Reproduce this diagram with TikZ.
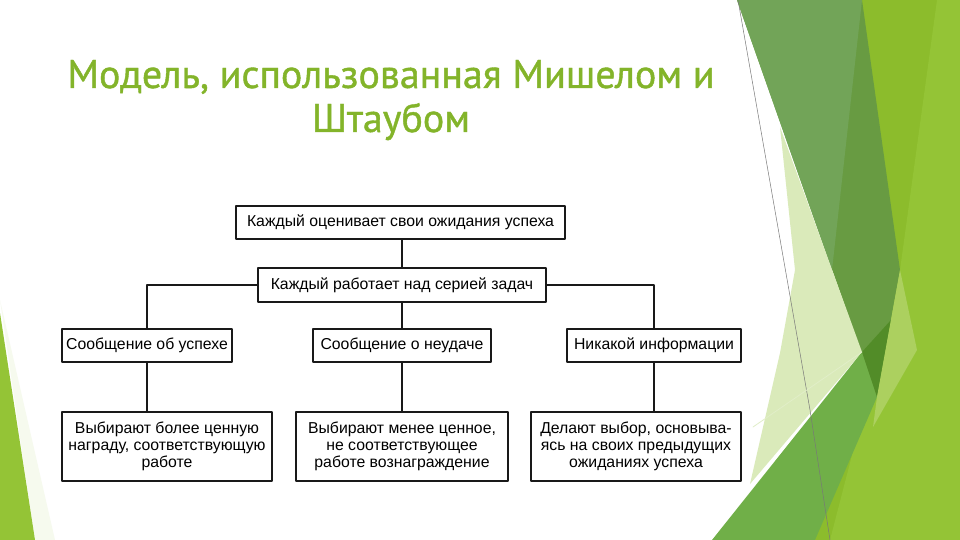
\documentclass[tikz,border=0pt]{standalone}
\usepackage{fontspec}
\newfontfamily\titlefont[FakeBold=1]{PT Sans}
\newfontfamily\boxfont{Liberation Sans}
\begin{document}
\begin{tikzpicture}[x=1pt,y=-1pt,line cap=round,line join=round,
  stepbox/.style={draw=boxline,line width=1.5pt,inner sep=0pt,align=center,
    font=\boxfont\fontsize{15.8}{17}\selectfont},
  smallbox/.style={stepbox,minimum height=33pt},
  tallbox/.style={stepbox,minimum height=69pt},
  link/.style={draw=boxline,line width=1.5pt},
  headline/.style={text=titlegreen,anchor=base,inner sep=0pt,
    font=\titlefont\fontsize{40}{44}\selectfont}]
\definecolor{boxline}{RGB}{25,25,25}
\definecolor{titlegreen}{RGB}{131,180,42}
\definecolor{limebase}{RGB}{140,188,44}
\definecolor{limelight}{RGB}{148,196,54}
\definecolor{darkband}{RGB}{104,155,66}
\definecolor{mutedband}{RGB}{114,164,88}
\definecolor{palefacet}{RGB}{218,234,186}
\definecolor{midgreen}{RGB}{112,175,72}
\definecolor{deepgreen}{RGB}{82,140,40}
\definecolor{limepale}{RGB}{172,208,95}
\definecolor{faintline}{RGB}{120,120,120}

\useasboundingbox (0,0) rectangle (960,540);
\fill[white] (0,0) rectangle (960,540);

% facets
\fill[limebase] (862,0) -- (960,0) -- (960,540) -- (800,540) -- (877,397) -- cycle;
\fill[limelight] (937,0) -- (960,0) -- (960,540) -- (830,540) -- (900,270) -- cycle;
\fill[darkband] (737,0) -- (862,0) -- (900,270) -- (877,397) -- cycle;
\fill[mutedband] (737,0) -- (862,0) -- (832,270) -- cycle;
\fill[palefacet] (780,127) -- (862,352) -- (750,484) -- (780,353) -- (795,270) -- cycle;
\fill[midgreen] (712,540) -- (862,352) -- (877,397) -- (815,540) -- cycle;
\fill[deepgreen] (862,352) -- (891,320) -- (877,397) -- cycle;
\fill[limepale] (900,270) -- (917,350) -- (873,427) -- (877,397) -- cycle;
\draw[faintline,line width=0.5pt] (738,0) -- (810,410) -- (830,540);
\draw[palefacet!80!white,line width=0.8pt] (753,427) -- (862,352);
\fill[palefacet!25!white] (0,300) -- (55,540) -- (35,540) -- cycle;
\fill[limelight] (0,313) -- (35,540) -- (0,540) -- cycle;

% title
\node[headline] (title1) at (391,88) {Модель, использованная Мишелом и};
\node[headline] (title2) at (391,132) {Штаубом};

% boxes
\node[smallbox,minimum width=329pt] (ozhid) at (400.5,222.5)
  {Каждый оценивает свои ожидания успеха};
\node[smallbox,minimum width=288pt,minimum height=34pt] (seria) at (402,285)
  {Каждый работает над серией задач};
\node[smallbox,minimum width=170pt] (uspeh) at (147,345.5) {Сообщение об успехе};
\node[smallbox,minimum width=178pt] (neudacha) at (402,345.5) {Сообщение о неудаче};
\node[smallbox,minimum width=174pt] (noinfo) at (654,345.5) {Никакой информации};
\node[tallbox,minimum width=210pt] (bolee) at (167,446.5)
  {Выбирают более ценную\\награду, соответствующую\\работе};
\node[tallbox,minimum width=212pt] (menee) at (402,446.5)
  {Выбирают менее ценное,\\не соответствующее\\работе вознаграждение};
\node[tallbox,minimum width=210pt] (predyd) at (636,446.5)
  {Делают выбор, основыва-\\ясь на своих предыдущих\\ожиданиях успеха};

% links
\path[link] (seria.north) -- (seria.north |- ozhid.south);
\path[link] (seria.west) -| (uspeh.north);
\path[link] (seria) -- (neudacha);
\path[link] (seria.east) -| (noinfo.north);
\path[link] (uspeh.south) -- (uspeh.south |- bolee.north);
\path[link] (neudacha) -- (menee);
\path[link] (noinfo.south) -- (noinfo.south |- predyd.north);
\end{tikzpicture}
\end{document}
